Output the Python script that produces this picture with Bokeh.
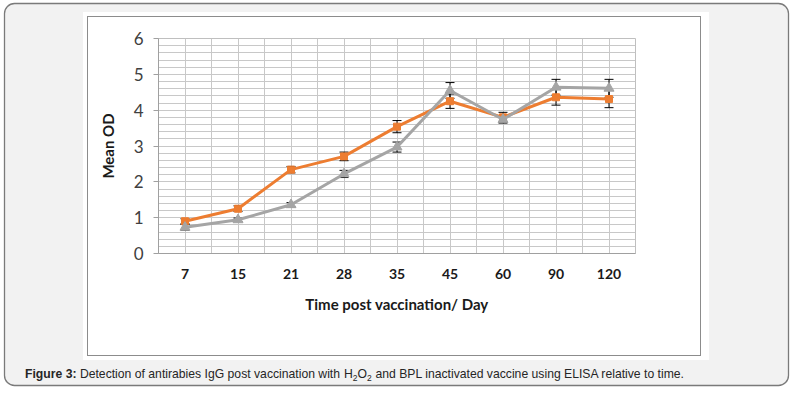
from urllib.parse import quote
from bokeh.plotting import figure
from bokeh.models import (FactorRange, Range1d, SingleIntervalTicker, FixedTicker, Grid,
                          ColumnDataSource, Whisker, TeeHead, Legend, LegendItem, Label)
from bokeh.embed import file_html
from bokeh.resources import INLINE

# ---- data ----
days = ["7", "15", "21", "28", "35", "45", "60", "90", "120"]
tvac = [0.90, 1.25, 2.34, 2.71, 3.54, 4.25, 3.80, 4.36, 4.31]
tvac_err = [0.07, 0.08, 0.09, 0.12, 0.17, 0.20, 0.14, 0.22, 0.24]
stvac = [0.73, 0.94, 1.36, 2.22, 2.97, 4.55, 3.74, 4.64, 4.61]
stvac_err = [0.08, 0.05, 0.06, 0.10, 0.14, 0.22, 0.10, 0.22, 0.25]
series_names = ["Tvac", "St Vac"]
x_title = "Time post vaccination/ Day"
y_title = "Mean OD"

ORANGE = "#ed7d31"
GRAY = "#a5a5a5"
GRID = "#c8c8c8"
FONT = "Lato"

src = ColumnDataSource(dict(
    day=days, tvac=tvac, stvac=stvac,
    t_up=[v + e for v, e in zip(tvac, tvac_err)],
    t_lo=[v - e for v, e in zip(tvac, tvac_err)],
    s_up=[v + e for v, e in zip(stvac, stvac_err)],
    s_lo=[v - e for v, e in zip(stvac, stvac_err)],
))

W, H = 798, 397
FL, FR, FT, FB = 158, 635, 38, 253     # plot-area edges on the page
p = figure(frame_width=FR - FL, frame_height=FB - FT,
           x_range=FactorRange(*days), y_range=Range1d(0, 6),
           output_backend="svg", toolbar_location=None,
           min_border_left=FL, min_border_right=W - FR,
           min_border_top=FT, min_border_bottom=H - FB)
p.border_fill_color = None
p.background_fill_color = "white"
p.outline_line_color = "#bfbfbf"

# page panel background (rounded grey card, white chart area, chart border)
bg_svg = ('<svg xmlns="http://www.w3.org/2000/svg" width="798" height="397">'
          '<rect x="4.5" y="3.5" width="784" height="382" rx="10" ry="10" '
          'fill="#f2f2f2" stroke="#7a7a7a" stroke-width="1.3"/>'
          '<rect x="83" y="12" width="626" height="348" fill="#ffffff"/>'
          '<rect x="87.5" y="16.5" width="613" height="339" fill="none" stroke="#8c8c8c"/>'
          '</svg>')
p.styles = {"background-color": "#ffffff",
            "background-image": 'url("data:image/svg+xml,%s")' % quote(bg_svg),
            "background-repeat": "no-repeat",
            "background-position": "0 0"}

# y axis
p.yaxis.ticker = SingleIntervalTicker(interval=1, num_minor_ticks=5)
p.yaxis.axis_line_color = "#a0a0a0"
p.yaxis.major_tick_line_color = "#a0a0a0"
p.yaxis.major_tick_out = 5
p.yaxis.major_tick_in = 0
p.yaxis.minor_tick_line_color = None
p.yaxis.major_label_standoff = 10
p.yaxis.major_label_text_font = FONT
p.yaxis.major_label_text_font_size = "17px"
p.yaxis.major_label_text_color = "#404040"
p.yaxis.axis_label = y_title
p.yaxis.axis_label_text_font = FONT
p.yaxis.axis_label_text_font_style = "bold"
p.yaxis.axis_label_text_font_size = "15px"
p.yaxis.axis_label_text_color = "#1a1a1a"
p.yaxis.axis_label_standoff = 14

# x axis
p.xaxis.axis_line_color = "#a0a0a0"
p.xaxis.major_tick_line_color = None
p.xaxis.major_tick_out = 0
p.xaxis.major_tick_in = 0
p.xaxis.minor_tick_line_color = None
p.xaxis.major_label_standoff = 15
p.xaxis.major_label_text_font = FONT
p.xaxis.major_label_text_font_style = "bold"
p.xaxis.major_label_text_font_size = "14px"
p.xaxis.major_label_text_color = "#1a1a1a"
p.xaxis.axis_label = x_title
p.xaxis.axis_label_text_font = FONT
p.xaxis.axis_label_text_font_style = "bold"
p.xaxis.axis_label_text_font_size = "15px"
p.xaxis.axis_label_text_color = "#1a1a1a"
p.xaxis.axis_label_standoff = 13

# grids
p.xgrid.grid_line_color = GRID
p.ygrid.grid_line_color = GRID
p.ygrid.minor_grid_line_color = GRID
p.add_layout(Grid(dimension=0, ticker=FixedTicker(ticks=list(range(1, len(days)))),
                  grid_line_color=GRID))

# series
l1 = p.line("day", "tvac", source=src, line_color=ORANGE, line_width=3)
m1 = p.scatter("day", "tvac", source=src, marker="square", size=7,
               fill_color=ORANGE, line_color=ORANGE)
l2 = p.line("day", "stvac", source=src, line_color=GRAY, line_width=3)
m2 = p.scatter("day", "stvac", source=src, marker="triangle", size=10,
               fill_color=GRAY, line_color=GRAY)

for up, lo in (("t_up", "t_lo"), ("s_up", "s_lo")):
    p.add_layout(Whisker(source=src, base="day", upper=up, lower=lo,
                         line_color="black", line_width=1,
                         upper_head=TeeHead(size=9, line_color="black", line_width=1),
                         lower_head=TeeHead(size=9, line_color="black", line_width=1)))

# legend directly under the axis title (top of its own panel)
legend = Legend(items=[LegendItem(label=series_names[0], renderers=[l1, m1]),
                       LegendItem(label=series_names[1], renderers=[l2, m2])],
                orientation="horizontal", location="top_center",
                glyph_width=41, glyph_height=16, label_standoff=3, spacing=8,
                padding=0, margin=0, border_line_color=None, background_fill_alpha=0,
                label_text_font=FONT, label_text_font_size="15px",
                label_text_color="#404040")
p.add_layout(legend, "below")

# caption (canvas units, so it is placed absolutely; kept in the right-hand side
# panel so that it is not clipped and does not push the legend down)
CAP_FONT = "Liberation Sans"
CY = 373
def cap(x, text, bold=False, size="12.2px", dy=0):
    p.add_layout(Label(x=x, y=CY + dy, x_units="canvas", y_units="canvas", text=text,
                       text_font=CAP_FONT, text_font_size=size,
                       text_font_style="bold" if bold else "normal",
                       text_color="#262626", text_baseline="middle", text_align="left"),
                 "right")

cap(24.5, "Figure 3:", bold=True)
cap(79.4, "Detection of antirabies IgG post vaccination with")
cap(343.5, "H")
cap(352.3, "2", size="8.5px", dy=4)
cap(357, "O")
cap(366.5, "2", size="8.5px", dy=4)
cap(375, "and BPL inactivated vaccine using ELISA relative to time.")

open("out.html", "w").write(file_html(p, INLINE))
